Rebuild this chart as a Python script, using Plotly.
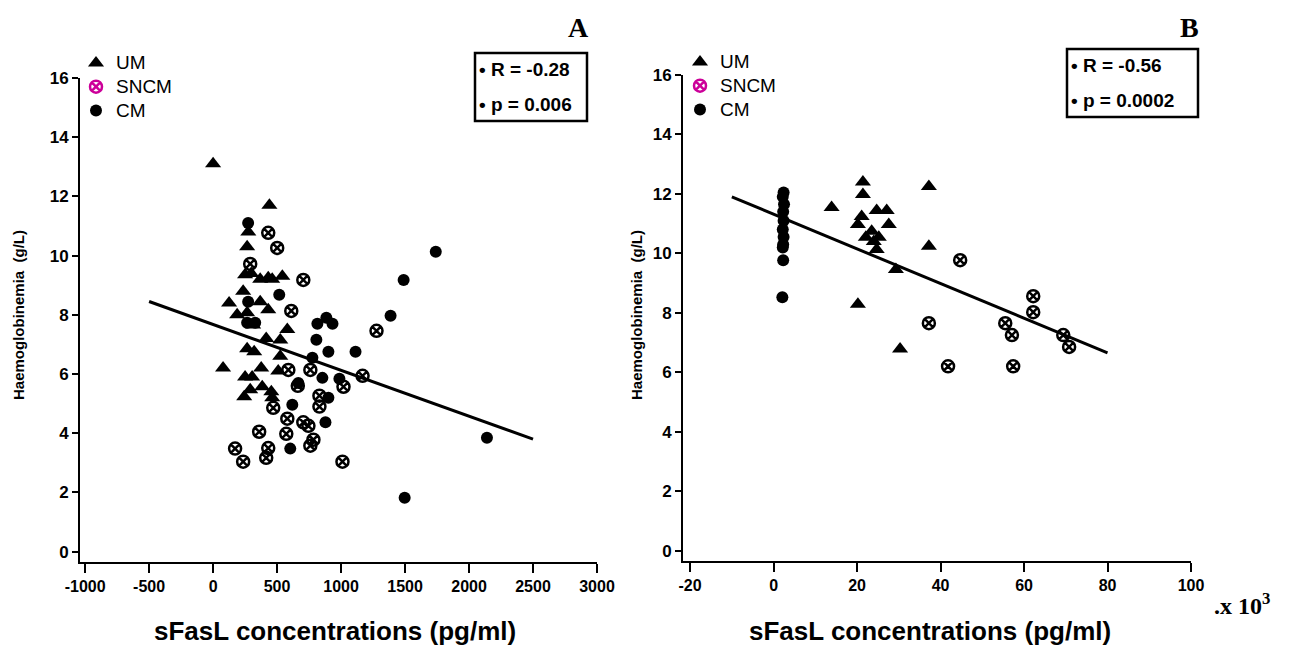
import plotly.graph_objects as go

# page body has an 8px margin, so the figure is drawn 8px in from the window corner
OFF = 8
W, H = 1306 - 2 * OFF, 657 - 2 * OFF

# ---- panel A data (sFasL pg/ml vs haemoglobinemia g/L)
a_um_x = [0, 440, 275, 266, 250, 298, 368, 431, 462, 541, 235, 125, 188, 266, 368, 431, 313,
          580, 415, 525, 266, 321, 525, 78, 250, 305, 376, 509, 290, 384, 243, 455, 462]
a_um_y = [13.1, 11.7, 10.8, 10.3, 9.35, 9.4, 9.2, 9.25, 9.2, 9.3, 8.8, 8.4, 8.0, 8.07, 8.44, 8.17, 7.66,
          7.5, 7.2, 7.15, 6.85, 6.75, 6.6, 6.2, 5.9, 5.9, 6.2, 6.1, 5.47, 5.57, 5.23, 5.4, 5.2]

a_sncm_x = [431, 501, 290, 705, 611, 1277, 1168, 588, 760, 1019, 662, 831, 831, 470, 580, 705, 745,
            360, 572, 784, 760, 172, 431, 235, 415, 1011]
a_sncm_y = [10.77, 10.26, 9.72, 9.18, 8.13, 7.46, 5.94, 6.14, 6.14, 5.57, 5.6, 5.27, 4.9, 4.86, 4.49,
            4.37, 4.25, 4.05, 3.98, 3.78, 3.58, 3.48, 3.5, 3.04, 3.17, 3.04]

a_cm_x = [274, 517, 274, 266, 329, 815, 885, 933, 807, 901, 1113, 776, 854, 987, 666, 901, 619, 878,
          603, 1740, 1489, 1387, 2140, 1497]
a_cm_y = [11.1, 8.68, 8.44, 7.73, 7.73, 7.7, 7.9, 7.7, 7.16, 6.75, 6.75, 6.55, 5.87, 5.84, 5.7, 5.2,
          4.96, 4.37, 3.48, 10.13, 9.18, 7.97, 3.85, 1.82]

a_fit_x = [-500, 2500]
a_fit_y = [8.45, 3.8]

# ---- panel B data (sFasL x10^3 pg/ml)
b_um_x = [13.9, 21.4, 21.4, 37.2, 21.1, 20.2, 24.7, 27.1, 27.6, 22.1, 23.5, 24.0, 25.2, 24.7, 37.2,
          29.3, 20.2, 30.3]
b_um_y = [11.54, 12.4, 11.98, 12.25, 11.24, 10.97, 11.44, 11.44, 10.97, 10.54, 10.74, 10.4, 10.54,
          10.13, 10.24, 9.46, 8.29, 6.78]

b_sncm_x = [44.7, 62.2, 62.2, 37.2, 55.5, 57.1, 41.8, 57.4, 69.4, 70.8]
b_sncm_y = [9.77, 8.56, 8.02, 7.65, 7.65, 7.25, 6.2, 6.2, 7.25, 6.85]

b_cm_x = [2.4, 2.2, 2.5, 2.3, 2.4, 2.2, 2.4, 2.3, 2.2, 2.3, 2.1]
b_cm_y = [12.05, 11.9, 11.65, 11.4, 11.1, 10.8, 10.55, 10.3, 10.2, 9.77, 8.52]

b_fit_x = [-10, 80]
b_fit_y = [11.9, 6.65]

groups = ['UM', 'SNCM', 'CM']
y_ticks = [0, 2, 4, 6, 8, 10, 12, 14, 16]
a_ticks = [-1000, -500, 0, 500, 1000, 1500, 2000, 2500, 3000]
b_ticks = [-20, 0, 20, 40, 60, 80, 100]
stats_a = ['• R = -0.28', '• p = 0.006']
stats_b = ['• R = -0.56', '• p = 0.0002']

SANS = 'Arial, Liberation Sans, sans-serif'
SERIF = 'Times New Roman, Liberation Serif, serif'
MAGENTA = '#cc0099'


def px_x(p):
    return (p - OFF) / W


def px_y(p):
    return 1 - (p - OFF) / H


def bold_labels(vals):
    return ['<b>%s</b>' % v for v in vals]


def marker(name, legend=False):
    if name == 'UM':
        return dict(symbol='triangle-up', size=14, color='black')
    if name == 'SNCM':
        c = MAGENTA if legend else 'black'
        return dict(symbol='circle-x-open', size=12, color=c, line=dict(color=c, width=2.5))
    return dict(symbol='circle', size=12, color='black')


fig = go.Figure()

panels = [
    ('x', 'y', 'legend', [(a_um_x, a_um_y), (a_sncm_x, a_sncm_y), (a_cm_x, a_cm_y)], a_fit_x, a_fit_y),
    ('x2', 'y2', 'legend2', [(b_um_x, b_um_y), (b_sncm_x, b_sncm_y), (b_cm_x, b_cm_y)], b_fit_x, b_fit_y),
]

for xa, ya, leg, pts, fx, fy in panels:
    for g, (xs, ys) in zip(groups, pts):
        fig.add_trace(go.Scatter(x=xs, y=ys, mode='markers', marker=marker(g),
                                 xaxis=xa, yaxis=ya, showlegend=False, hoverinfo='x+y'))
    fig.add_trace(go.Scatter(x=fx, y=fy, mode='lines', line=dict(color='black', width=3),
                             xaxis=xa, yaxis=ya, showlegend=False))
    # legend entries (SNCM symbol is magenta in the key)
    for g in groups:
        fig.add_trace(go.Scatter(x=[None], y=[None], mode='markers', marker=marker(g, legend=True),
                                 name='<span style="font-size:19px">%s</span>' % g,
                                 xaxis=xa, yaxis=ya, legend=leg))

axis_common = dict(showline=True, linecolor='black', linewidth=2, ticks='outside',
                   tickcolor='black', tickwidth=2, showgrid=False, zeroline=False,
                   automargin=False)
xfont = dict(family=SANS, size=16, color='black')
yfont = dict(family=SANS, size=17, color='black')
legfont = dict(family=SANS, size=16, color='black')

fig.update_layout(
    width=W, height=H,
    margin=dict(l=0, r=0, t=0, b=0, pad=0, autoexpand=False),
    paper_bgcolor='white', plot_bgcolor='white',
    xaxis=dict(domain=[px_x(80), px_x(597)], range=[-1040, 3000], tickvals=a_ticks,
               ticktext=bold_labels(a_ticks), tickfont=xfont,
               anchor='y', ticklen=9, **axis_common),
    yaxis=dict(domain=[px_y(562), px_y(78)], range=[-0.35, 16], tickvals=y_ticks,
               ticktext=bold_labels(y_ticks), tickfont=yfont,
               anchor='x', ticklen=6, **axis_common),
    xaxis2=dict(domain=[px_x(683), px_x(1191)], range=[-21.7, 100], tickvals=b_ticks,
                ticktext=bold_labels(b_ticks), tickfont=xfont,
                anchor='y2', ticklen=9, **axis_common),
    yaxis2=dict(domain=[px_y(561), px_y(75)], range=[-0.35, 16], tickvals=y_ticks,
                ticktext=bold_labels(y_ticks), tickfont=yfont,
                anchor='x2', ticklen=6, **axis_common),
    legend=dict(x=px_x(76), y=px_y(46), xanchor='left', yanchor='top',
                font=legfont, bgcolor='rgba(0,0,0,0)', itemclick=False),
    legend2=dict(x=px_x(680), y=px_y(45), xanchor='left', yanchor='top',
                 font=legfont, bgcolor='rgba(0,0,0,0)', itemclick=False),
)

# stats boxes
for (x0, y0, x1, y1), lines in [((475, 53, 587, 121), stats_a), ((1067, 49, 1198, 117), stats_b)]:
    fig.add_shape(type='rect', xref='paper', yref='paper', x0=px_x(x0), x1=px_x(x1),
                  y0=px_y(y1), y1=px_y(y0), line=dict(color='black', width=2.5))
    mid = (y0 + y1) / 2
    for txt, yy in zip(lines, [mid - 17, mid + 17]):
        fig.add_annotation(text='<b>%s</b>' % txt, xref='paper', yref='paper', x=px_x(x0 + 2), y=px_y(yy),
                           xanchor='left', yanchor='middle', showarrow=False,
                           font=dict(family=SANS, size=19, color='black'))

# panel letters
for letter, xx in [('A', 578), ('B', 1189)]:
    fig.add_annotation(text='<b>%s</b>' % letter, xref='paper', yref='paper', x=px_x(xx), y=px_y(28),
                       xanchor='center', yanchor='middle', showarrow=False,
                       font=dict(family=SERIF, size=28, color='black'))

# axis titles
for xx in [335, 930]:
    fig.add_annotation(text='<b>sFasL concentrations (pg/ml)</b>', xref='paper', yref='paper',
                       x=px_x(xx), y=px_y(631), xanchor='center', yanchor='middle', showarrow=False,
                       font=dict(family=SANS, size=26, color='black'))
for xx in [18, 636]:
    fig.add_annotation(text='<b>Haemoglobinemia  (g/L)</b>', xref='paper', yref='paper', textangle=-90,
                       x=px_x(xx), y=px_y(315), xanchor='center', yanchor='middle', showarrow=False,
                       font=dict(family=SANS, size=15, color='black'))

fig.add_annotation(text='<b>.x 10<sup>3</sup></b>', xref='paper', yref='paper', x=px_x(1212), y=px_y(604),
                   xanchor='left', yanchor='middle', showarrow=False,
                   font=dict(family=SERIF, size=24, color='black'))

fig.write_html('out.html')
